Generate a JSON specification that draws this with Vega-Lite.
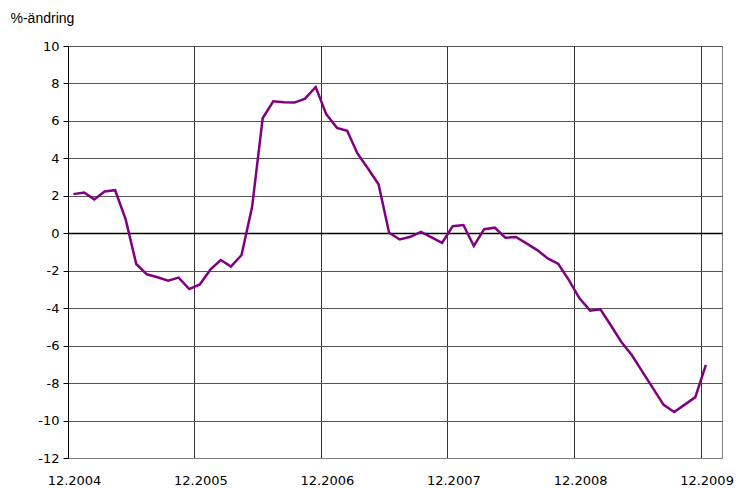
{
  "$schema": "https://vega.github.io/schema/vega-lite/v6.json",
  "width": 654,
  "height": 412,
  "autosize": {"type": "none"},
  "padding": {"left": 68, "top": 46, "right": 14, "bottom": 30},
  "background": "white",
  "config": {
    "view": {"stroke": "#808080", "strokeWidth": 1},
    "axis": {"labelFont": "DejaVu Sans", "labelFontSize": 13, "labelColor": "black"}
  },
  "data": {
    "values": [
      {"month": "2004-12-01", "value": 2.09},
      {"month": "2005-01-01", "value": 2.18},
      {"month": "2005-02-01", "value": 1.81},
      {"month": "2005-03-01", "value": 2.23},
      {"month": "2005-04-01", "value": 2.30},
      {"month": "2005-05-01", "value": 0.74},
      {"month": "2005-06-01", "value": -1.64},
      {"month": "2005-07-01", "value": -2.19},
      {"month": "2005-08-01", "value": -2.35},
      {"month": "2005-09-01", "value": -2.53},
      {"month": "2005-10-01", "value": -2.37},
      {"month": "2005-11-01", "value": -2.98},
      {"month": "2005-12-01", "value": -2.73},
      {"month": "2006-01-01", "value": -1.93},
      {"month": "2006-02-01", "value": -1.43},
      {"month": "2006-03-01", "value": -1.78},
      {"month": "2006-04-01", "value": -1.16},
      {"month": "2006-05-01", "value": 1.41},
      {"month": "2006-06-01", "value": 6.14},
      {"month": "2006-07-01", "value": 7.05},
      {"month": "2006-08-01", "value": 7.00},
      {"month": "2006-09-01", "value": 6.98},
      {"month": "2006-10-01", "value": 7.19},
      {"month": "2006-11-01", "value": 7.81},
      {"month": "2006-12-01", "value": 6.36},
      {"month": "2007-01-01", "value": 5.63},
      {"month": "2007-02-01", "value": 5.47},
      {"month": "2007-03-01", "value": 4.26},
      {"month": "2007-04-01", "value": 3.46},
      {"month": "2007-05-01", "value": 2.62},
      {"month": "2007-06-01", "value": 0.03},
      {"month": "2007-07-01", "value": -0.33},
      {"month": "2007-08-01", "value": -0.19},
      {"month": "2007-09-01", "value": 0.08},
      {"month": "2007-10-01", "value": -0.22},
      {"month": "2007-11-01", "value": -0.51},
      {"month": "2007-12-01", "value": 0.38},
      {"month": "2008-01-01", "value": 0.44},
      {"month": "2008-02-01", "value": -0.68},
      {"month": "2008-03-01", "value": 0.22},
      {"month": "2008-04-01", "value": 0.30},
      {"month": "2008-05-01", "value": -0.24},
      {"month": "2008-06-01", "value": -0.20},
      {"month": "2008-07-01", "value": -0.54},
      {"month": "2008-08-01", "value": -0.90},
      {"month": "2008-09-01", "value": -1.34},
      {"month": "2008-10-01", "value": -1.64},
      {"month": "2008-11-01", "value": -2.50},
      {"month": "2008-12-01", "value": -3.47},
      {"month": "2009-01-01", "value": -4.13},
      {"month": "2009-02-01", "value": -4.06},
      {"month": "2009-03-01", "value": -4.90},
      {"month": "2009-04-01", "value": -5.79},
      {"month": "2009-05-01", "value": -6.50},
      {"month": "2009-06-01", "value": -7.39},
      {"month": "2009-07-01", "value": -8.27},
      {"month": "2009-08-01", "value": -9.16},
      {"month": "2009-09-01", "value": -9.54},
      {"month": "2009-10-01", "value": -9.15},
      {"month": "2009-11-01", "value": -8.75},
      {"month": "2009-12-01", "value": -7.03}
    ]
  },
  "mark": {"type": "line", "color": "#800080", "strokeWidth": 2.5, "clip": true},
  "encoding": {
    "x": {
      "field": "month",
      "timeUnit": "utcyearmonth",
      "type": "temporal",
      "bandPosition": 0.5,
      "scale": {
        "type": "utc",
        "domain": [
          {"year": 2004, "month": 12, "date": 1, "utc": true},
          {"year": 2010, "month": 2, "date": 1, "utc": true}
        ]
      },
      "axis": {
        "title": null,
        "values": [
          {"year": 2004, "month": 12, "date": 1, "utc": true},
          {"year": 2005, "month": 12, "date": 1, "utc": true},
          {"year": 2006, "month": 12, "date": 1, "utc": true},
          {"year": 2007, "month": 12, "date": 1, "utc": true},
          {"year": 2008, "month": 12, "date": 1, "utc": true},
          {"year": 2009, "month": 12, "date": 1, "utc": true}
        ],
        "format": "%m.%Y",
        "grid": true,
        "gridColor": "#333333",
        "gridWidth": 1,
        "ticks": false,
        "domain": true,
        "domainColor": "#808080",
        "labelOffset": 6,
        "labelPadding": 16,
        "labelFlush": false,
        "labelOverlap": false
      }
    },
    "y": {
      "field": "value",
      "type": "quantitative",
      "scale": {"domain": [-12, 10], "nice": false, "zero": false},
      "axis": {
        "title": "%-ändring",
        "titleFont": "Liberation Sans",
        "titleFontSize": 14,
        "titleFontWeight": "normal",
        "titleColor": "black",
        "titleAngle": 0,
        "titleAlign": "left",
        "titleBaseline": "middle",
        "titleX": -58,
        "titleY": -28,
        "values": [-12, -10, -8, -6, -4, -2, 0, 2, 4, 6, 8, 10],
        "labelExpr": "'' + datum.value",
        "grid": true,
        "gridColor": {"condition": {"test": "datum.value === 0", "value": "#000000"}, "value": "#555555"},
        "gridWidth": {"condition": {"test": "datum.value === 0", "value": 1.5}, "value": 1},
        "domainColor": "black",
        "tickColor": "black",
        "tickSize": 5,
        "labelPadding": 4
      }
    }
  }
}
